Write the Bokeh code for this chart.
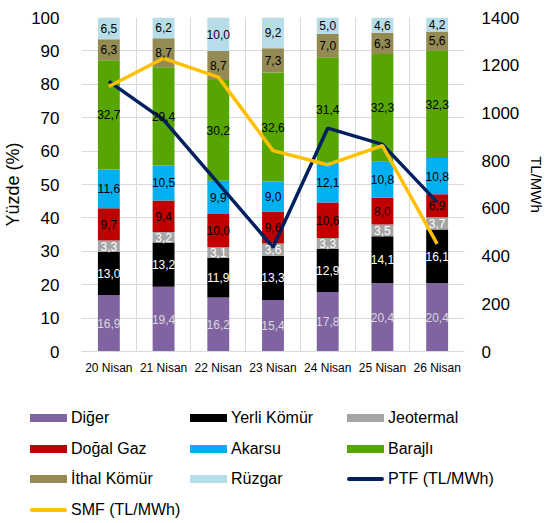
import numpy as np
from bokeh.plotting import figure
from bokeh.layouts import column
from bokeh.models import (ColumnDataSource, LinearAxis, Range1d, FixedTicker, Div)
from bokeh.core.properties import value
from bokeh.embed import file_html
from bokeh.resources import INLINE

# ---------------- data ----------------
categories = ["20 Nisan", "21 Nisan", "22 Nisan", "23 Nisan", "24 Nisan", "25 Nisan", "26 Nisan"]
diger = [16.9, 19.4, 16.2, 15.4, 17.8, 20.4, 20.4]
yerli_komur = [13.0, 13.2, 11.9, 13.3, 12.9, 14.1, 16.1]
jeotermal = [3.3, 3.2, 3.1, 3.6, 3.3, 3.5, 3.7]
dogal_gaz = [9.7, 9.4, 10.0, 9.6, 10.6, 8.0, 6.9]
akarsu = [11.6, 10.5, 9.9, 9.0, 12.1, 10.8, 10.8]
barajli = [32.7, 29.4, 30.2, 32.6, 31.4, 32.3, 32.3]
ithal_komur = [6.3, 8.7, 8.7, 7.3, 7.0, 6.3, 5.6]
ruzgar = [6.5, 6.2, 10.0, 9.2, 5.0, 4.6, 4.2]
ptf = [1132, 971, 705, 437, 936, 868, 626]
smf = [1111, 1229, 1150, 842, 783, 863, 451]

series_names = ["Diğer", "Yerli Kömür", "Jeotermal", "Doğal Gaz", "Akarsu",
                "Barajlı", "İthal Kömür", "Rüzgar"]
series_values = [diger, yerli_komur, jeotermal, dogal_gaz, akarsu, barajli,
                 ithal_komur, ruzgar]
series_colors = ["#8064A2", "#000000", "#A5A5A5", "#C00000", "#00B0F0",
                 "#57A500", "#948A54", "#B7DEE8"]
label_colors = ["#D9D9D9", "#FFFFFF", "#FFFFFF", "#000000", "#000000",
                "#000000", "#000000", "#000000"]
line_names = ["PTF (TL/MWh)", "SMF (TL/MWh)"]
line_colors = ["#002060", "#FFC000"]
left_ticks = list(range(0, 101, 10))
right_ticks = list(range(0, 1401, 200))

FONT = "Liberation Sans"
W = 548

# ---------------- figure ----------------
p = figure(width=W, height=385, output_backend="svg", toolbar_location=None,
           x_range=Range1d(0, len(categories)), y_range=Range1d(0, 100),
           min_border_left=79, min_border_right=W - 465, min_border_top=17,
           min_border_bottom=34)
p.outline_line_color = None
p.extra_y_ranges = {"price": Range1d(0, 1400)}

xc = [i + 0.5 for i in range(len(categories))]
keys = [f"s{i}" for i in range(len(series_names))]
data = {"x": xc}
for k, v in zip(keys, series_values):
    data[k] = v
src = ColumnDataSource(data)

p.vbar_stack(keys, x="x", width=0.4, source=src, color=series_colors,
             line_color=None)
p.line(xc, ptf, y_range_name="price", line_color=line_colors[0], line_width=3.5)
p.line(xc, smf, y_range_name="price", line_color=line_colors[1], line_width=3.5)

# value labels
lx, ly, lt, lc = [], [], [], []
cum = np.zeros(len(categories))
for vals, col in zip(series_values, label_colors):
    arr = np.array(vals)
    for i in range(len(categories)):
        lx.append(xc[i])
        ly.append(cum[i] + arr[i] / 2)
        lt.append(f"{arr[i]:.1f}".replace(".", ","))
        lc.append(col)
    cum = cum + arr
lsrc = ColumnDataSource(dict(x=lx, y=ly, t=lt, c=lc))
p.text(x="x", y="y", text="t", text_color="c", source=lsrc,
       text_align="center", text_baseline="middle",
       text_font=value(FONT), text_font_size="12px")

# axes / grid
grid_color = "#D9D9D9"
p.xgrid.ticker = FixedTicker(ticks=list(range(len(categories) + 1)))
p.xgrid.grid_line_color = grid_color
p.ygrid.ticker = FixedTicker(ticks=left_ticks)
p.ygrid.grid_line_color = grid_color

xa = p.xaxis[0]
xa.ticker = FixedTicker(ticks=xc)
xa.major_label_overrides = {x: c for x, c in zip(xc, categories)}
xa.axis_line_color = grid_color
xa.major_tick_line_color = None
xa.minor_tick_line_color = None
xa.major_label_text_font = FONT
xa.major_label_text_font_size = "12px"
xa.major_label_text_color = "#000000"
xa.major_label_standoff = 3

ya = p.yaxis[0]
ya.ticker = FixedTicker(ticks=left_ticks)
ya.axis_line_color = None
ya.major_tick_line_color = None
ya.minor_tick_line_color = None
ya.major_label_text_font = FONT
ya.major_label_text_font_size = "17px"
ya.major_label_text_color = "#000000"
ya.major_label_standoff = 16
ya.axis_label = "Yüzde (%)"
ya.axis_label_text_font = FONT
ya.axis_label_text_font_size = "18px"
ya.axis_label_text_font_style = "normal"
ya.axis_label_text_color = "#000000"
ya.axis_label_standoff = 5

ra = LinearAxis(y_range_name="price", ticker=FixedTicker(ticks=right_ticks))
ra.axis_line_color = None
ra.major_tick_line_color = None
ra.minor_tick_line_color = None
ra.major_label_text_font = FONT
ra.major_label_text_font_size = "17px"
ra.major_label_text_color = "#000000"
ra.major_label_standoff = 11
ra.axis_label = "TL/MWh"
ra.axis_label_orientation = "vertical"
ra.axis_label_text_font = FONT
ra.axis_label_text_font_size = "15px"
ra.axis_label_text_font_style = "normal"
ra.axis_label_text_color = "#000000"
ra.axis_label_standoff = 6
p.add_layout(ra, "right")

# ---------------- legend (HTML) ----------------
col_x = [30, 190, 347]
row_y = [33, 64, 94, 125]
entries = [(n, c, "bar") for n, c in zip(series_names, series_colors)]
entries += [(n, c, "line") for n, c in zip(line_names, line_colors)]
parts = []
for i, (name, color, kind) in enumerate(entries):
    cx = col_x[i % 3]
    cy = row_y[i // 3]
    if kind == "bar":
        sw = (f'<div style="position:absolute;left:{cx}px;top:{cy - 4}px;'
              f'width:37px;height:8px;background:{color};"></div>')
    else:
        sw = (f'<div style="position:absolute;left:{cx}px;top:{cy - 2}px;'
              f'width:37px;height:4px;border-radius:2px;background:{color};"></div>')
    tx = (f'<div style="position:absolute;left:{cx + 41}px;top:{cy - 10}px;'
          f'height:20px;line-height:20px;white-space:nowrap;'
          f'font-family:\'{FONT}\';font-size:16px;color:#000;">{name}</div>')
    parts.append(sw + tx)
html = ('<div style="position:relative;width:548px;height:137px;">'
        + "".join(parts) + '</div>')
legend_div = Div(text=html, width=W, height=137, margin=0)

open("out.html", "w").write(file_html(column(p, legend_div, spacing=0), INLINE))
